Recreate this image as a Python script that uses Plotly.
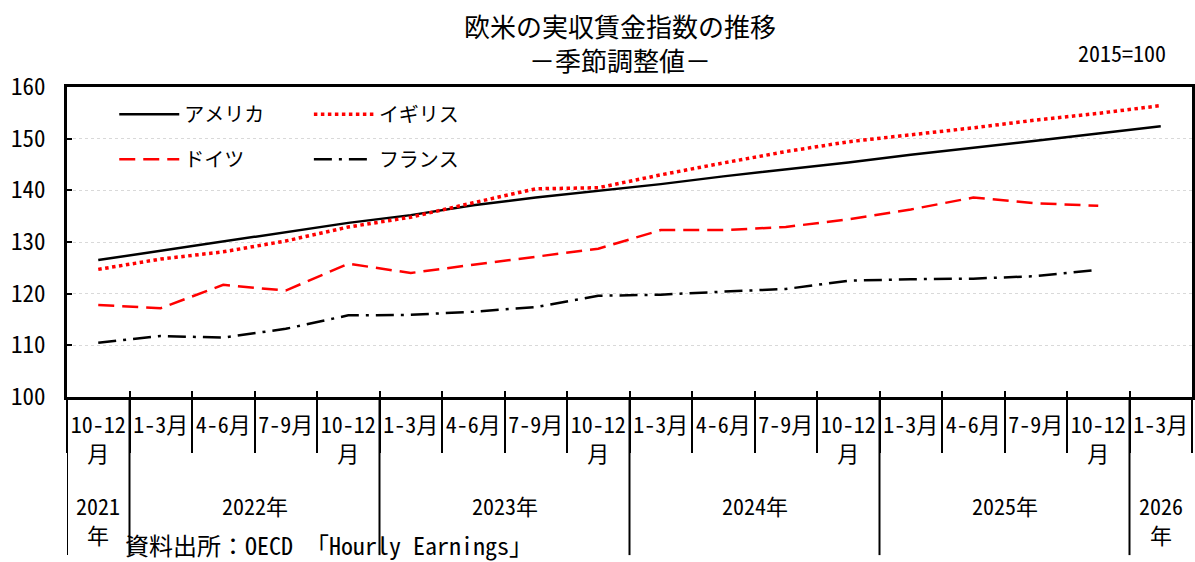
import plotly.graph_objects as go

categories = ["2021年10-12月",
              "2022年1-3月", "2022年4-6月", "2022年7-9月", "2022年10-12月",
              "2023年1-3月", "2023年4-6月", "2023年7-9月", "2023年10-12月",
              "2024年1-3月", "2024年4-6月", "2024年7-9月", "2024年10-12月",
              "2025年1-3月", "2025年4-6月", "2025年7-9月", "2025年10-12月",
              "2026年1-3月"]
quarter_labels = ["10-12<br>月",
                  "1-3月", "4-6月", "7-9月", "10-12<br>月",
                  "1-3月", "4-6月", "7-9月", "10-12<br>月",
                  "1-3月", "4-6月", "7-9月", "10-12<br>月",
                  "1-3月", "4-6月", "7-9月", "10-12<br>月",
                  "1-3月"]
year_of_cat = [2021, 2022, 2022, 2022, 2022, 2023, 2023, 2023, 2023,
               2024, 2024, 2024, 2024, 2025, 2025, 2025, 2025, 2026]
year_labels = {2021: "2021<br>年", 2022: "2022年", 2023: "2023年",
               2024: "2024年", 2025: "2025年", 2026: "2026<br>年"}

america = [126.5, 128.3, 130.2, 132.0, 133.7, 135.2, 137.1, 138.6, 139.9,
           141.2, 142.7, 144.0, 145.4, 146.9, 148.2, 149.6, 151.0, 152.4]
uk = [124.7, 126.7, 128.1, 130.2, 132.9, 134.8, 137.6, 140.3, 140.5,
      143.0, 145.3, 147.5, 149.4, 150.7, 152.1, 153.6, 154.9, 156.4]
germany = [117.8, 117.2, 121.7, 120.6, 125.8, 124.0, 125.6, 127.1, 128.7,
           132.3, 132.3, 132.9, 134.4, 136.3, 138.6, 137.5, 137.0, None]
france = [110.5, 111.8, 111.5, 113.2, 115.8, 115.9, 116.5, 117.4, 119.6,
          119.8, 120.4, 120.9, 122.5, 122.8, 122.9, 123.4, 124.6, None]

FONT = "Noto Sans Mono CJK JP, Noto Sans CJK JP, sans-serif"

fig = go.Figure()
fig.add_trace(go.Scatter(x=categories, y=america, name="アメリカ", mode="lines",
                         line=dict(color="black", width=2.5), legend="legend",
                         legendgroup="a"))
fig.add_trace(go.Scatter(x=categories, y=uk, name="イギリス", mode="lines",
                         line=dict(color="#ff0000", width=3.5, dash="dot"),
                         legend="legend2", legendgroup="b"))
fig.add_trace(go.Scatter(x=categories, y=germany, name="ドイツ", mode="lines",
                         line=dict(color="#ff0000", width=2.5, dash="16px,8px"),
                         legend="legend", legendgroup="c"))
fig.add_trace(go.Scatter(x=categories, y=france, name="フランス", mode="lines",
                         line=dict(color="black", width=2.5, dash="18px,7px,3px,7px"),
                         legend="legend2", legendgroup="d"))

shapes = []
annotations = []
n = len(categories)
years = sorted(set(year_of_cat))
for y in years:
    idx = [i for i, yy in enumerate(year_of_cat) if yy == y]
    first, last = idx[0], idx[-1]
    shapes.append(dict(type="line", xref="x", yref="paper", x0=first - 0.5, x1=first - 0.5,
                       y0=0, y1=-0.51, line=dict(color="black", width=2)))
    annotations.append(dict(xref="x", yref="paper", x=(first + last) / 2, y=-0.29,
                            yanchor="top", text=year_labels[y], showarrow=False,
                            font=dict(family=FONT, size=22, color="black")))

annotations += [
    dict(xref="paper", yref="paper", x=0.4916, y=1.142, xanchor="center", yanchor="middle",
         text="欧米の実収賃金指数の推移<br>－季節調整値－", showarrow=False,
         font=dict(family=FONT, size=26, color="black")),
    dict(xref="paper", yref="paper", x=0.9787, y=1.113, xanchor="right", yanchor="middle",
         text="2015=100", showarrow=False,
         font=dict(family=FONT, size=22, color="black")),
    dict(xref="paper", yref="paper", x=0.05, y=-0.475, xanchor="left", yanchor="middle",
         text="資料出所：OECD 「Hourly Earnings」", showarrow=False,
         font=dict(family=FONT, size=24, color="black")),
]

fig.update_layout(
    width=1195, height=562,
    margin=dict(l=67, r=3, t=87, b=165),
    paper_bgcolor="white", plot_bgcolor="white",
    font=dict(family=FONT, size=22, color="black"),
    showlegend=True,
    legend=dict(x=0.042, y=0.975, xanchor="left", yanchor="top", bgcolor="rgba(0,0,0,0)",
                font=dict(family=FONT, size=20), tracegroupgap=16, itemwidth=60),
    legend2=dict(x=0.215, y=0.975, xanchor="left", yanchor="top", bgcolor="rgba(0,0,0,0)",
                 font=dict(family=FONT, size=20), tracegroupgap=16, itemwidth=60),
    shapes=shapes,
    annotations=annotations,
    xaxis=dict(type="category", categoryorder="array", categoryarray=categories,
               range=[-0.5, n - 0.5], tickvals=categories, ticktext=quarter_labels,
               tickson="boundaries", ticks="inside", ticklen=6, tickwidth=2,
               tickcolor="black", showgrid=False, showline=True, linecolor="black",
               linewidth=3, mirror=True, ticklabelstandoff=7, automargin=False,
               tickangle=0, tickfont=dict(family=FONT, size=22)),
    xaxis2=dict(overlaying="x", anchor="y", side="bottom", range=[-0.5, n - 0.5],
                tickvals=[i - 0.5 for i in range(n + 1)], ticks="outside", ticklen=55,
                tickwidth=2, tickcolor="black", showticklabels=False, showgrid=False,
                showline=False, zeroline=False, automargin=False),
    yaxis=dict(range=[100, 160], dtick=10, tick0=100, ticks="inside", ticklen=5,
               tickwidth=2, tickcolor="black", showline=True, linecolor="black",
               linewidth=3, mirror=True, showgrid=True, gridcolor="#d9d9d9",
               griddash="dot", gridwidth=1, zeroline=False, ticklabelstandoff=14,
               automargin=False, tickfont=dict(family=FONT, size=23)),
)
fig.add_trace(go.Scatter(x=[], y=[], xaxis="x2", showlegend=False, hoverinfo="skip"))

fig.write_html("out.html", config={"displayModeBar": False},
               post_script="document.body.style.margin='0';")
